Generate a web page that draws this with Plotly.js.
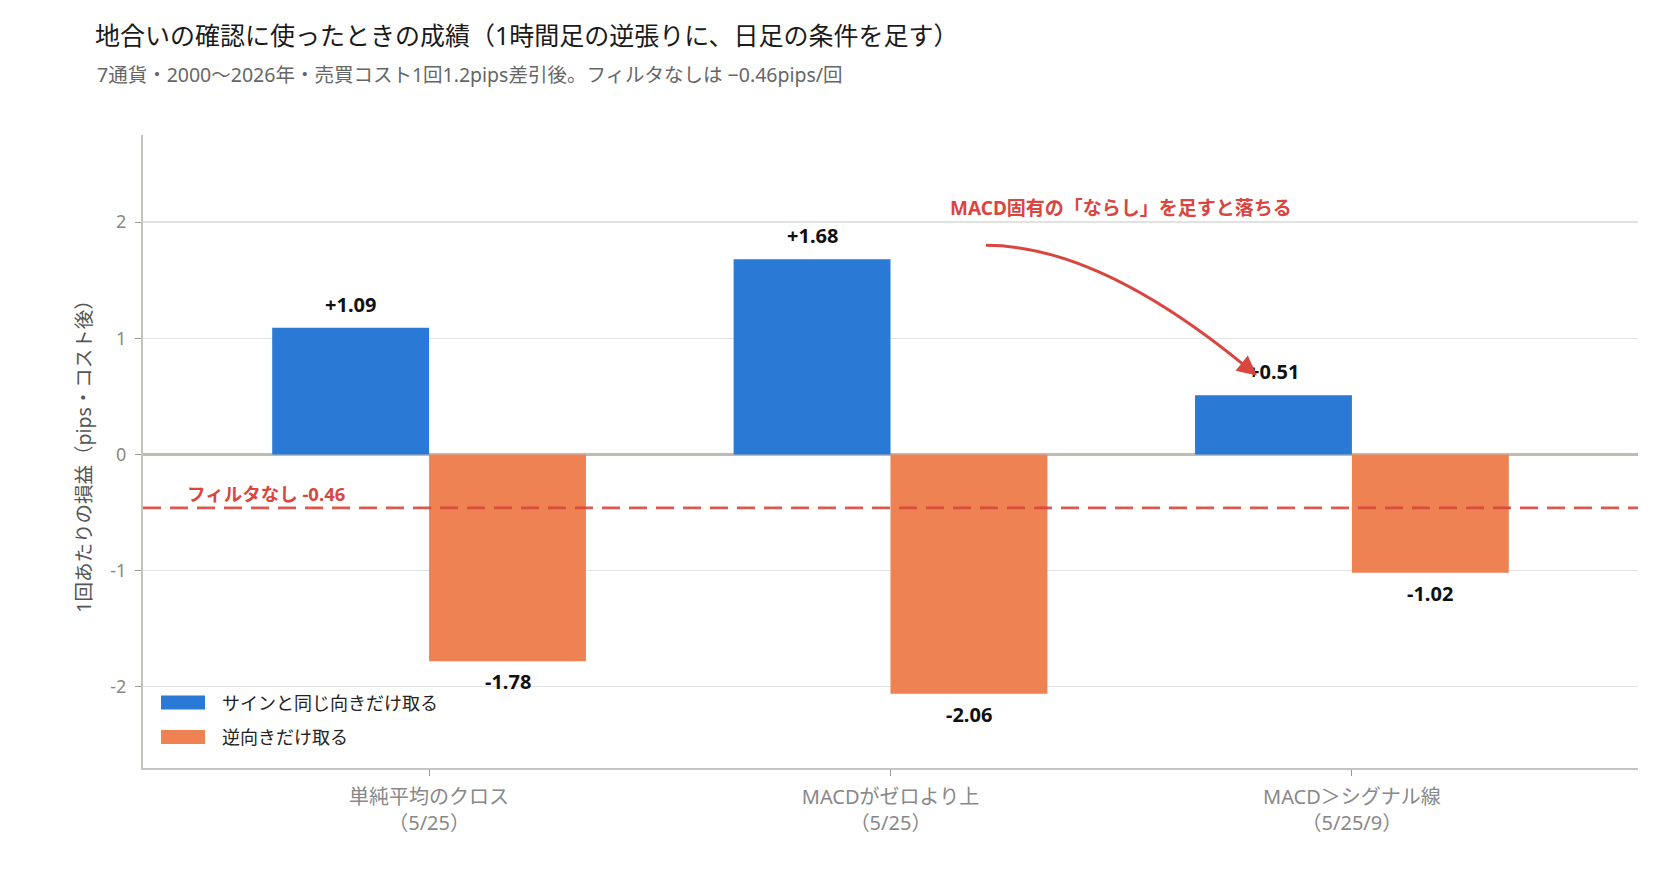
<!DOCTYPE html>
<html>
<head>
<meta charset="utf-8">
<script src="https://cdn.plot.ly/plotly-3.0.1.min.js"></script>
<style>
  html, body { margin: 0; padding: 0; background: #fff; }
  #chart { width: 1680px; height: 870px; }
</style>
</head>
<body>
<div id="chart"></div>
<script>
// Data
const categories = ['単純平均のクロス<br>（5/25）', 'MACDがゼロより上<br>（5/25）', 'MACD＞シグナル線<br>（5/25/9）'];
const seriesNames = ['サインと同じ向きだけ取る', '逆向きだけ取る'];
const sameDir = [1.09, 1.68, 0.51];
const oppDir = [-1.78, -2.06, -1.02];
const noFilter = -0.46;
const yTicks = [-2, -1, 0, 1, 2];
const yTickText = ['-2', '-1', '0', '1', '2'];

const FONT = "'Noto Sans', 'Noto Sans CJK JP', sans-serif";
const BLUE = '#2a79d4';
const ORANGE = '#ee8253';
const RED = '#d9463f';
const BAR_W = 0.34;

const xIdx = categories.map((_, i) => i);

const traces = [
    {
        type: 'bar',
        name: seriesNames[0],
        x: xIdx,
        y: sameDir,
        width: BAR_W,
        marker: { color: BLUE },
        legendgroup: 'a',
        hoverinfo: 'y'
    },
    {
        type: 'bar',
        name: seriesNames[1],
        x: xIdx,
        y: oppDir,
        width: BAR_W,
        marker: { color: ORANGE },
        legendgroup: 'b',
        hoverinfo: 'y'
    }
];

function fmt(v) {
    return (v > 0 ? '+' : '') + v.toFixed(2);
}

// value labels above / below each bar
function valueLabel(x, v) {
    return {
        x: x, y: v, xref: 'x', yref: 'y',
        text: fmt(v), showarrow: false,
        yanchor: v >= 0 ? 'bottom' : 'top', yshift: v >= 0 ? 8 : -5,
        font: { family: FONT, size: 20, color: '#111', weight: 'bold' }
    };
}
const valueLabels = [];
sameDir.forEach(function(v, i) { valueLabels.push(valueLabel(i - BAR_W / 2, v)); });
oppDir.forEach(function(v, i) { valueLabels.push(valueLabel(i + BAR_W / 2, v)); });

const layout = {
    width: 1680,
    height: 870,
    margin: { l: 143, r: 42, t: 135, b: 102 },
    paper_bgcolor: '#fff',
    plot_bgcolor: '#fff',
    font: { family: FONT, color: '#333' },
    barmode: 'group',
    bargap: 0.32,
    bargroupgap: 0,
    showlegend: true,
    title: {
        text: '地合いの確認に使ったときの成績（1時間足の逆張りに、日足の条件を足す）',
        font: { family: FONT, size: 25, color: '#1a1a1a' },
        xref: 'container', yref: 'container',
        x: 95 / 1680, xanchor: 'left',
        y: 1 - 36 / 870, yanchor: 'middle'
    },
    legend: {
        x: 0.0007, y: 0.02, xanchor: 'left', yanchor: 'bottom',
        bgcolor: 'rgba(255,255,255,0)',
        font: { family: FONT, size: 18, color: '#222' },
        traceorder: 'grouped',
        tracegroupgap: 8,
        itemwidth: 68
    },
    xaxis: {
        type: 'linear',
        range: [-0.62, 2.62],
        tickvals: xIdx,
        ticktext: categories,
        ticks: 'outside', ticklen: 6, tickcolor: '#999',
        ticklabelstandoff: 4,
        tickfont: { family: FONT, size: 20, color: '#888' },
        showline: true, linecolor: '#c4c4c4', linewidth: 2,
        showgrid: false, zeroline: false,
        fixedrange: true
    },
    yaxis: {
        range: [-2.7, 2.75],
        tickvals: yTicks,
        ticktext: yTickText,
        ticks: 'outside', ticklen: 6, tickcolor: '#999',
        ticklabelstandoff: 5,
        tickfont: { family: FONT, size: 18, color: '#888' },
        showline: true, linecolor: '#c4c4bc', linewidth: 2,
        showgrid: true, gridcolor: '#e2e2e2', gridwidth: 1.5,
        zeroline: true, zerolinecolor: '#bdbdb3', zerolinewidth: 2.5,
        title: {
            text: '1回あたりの損益（pips・コスト後）',
            font: { family: FONT, size: 19.5, color: '#555' },
            standoff: 13
        },
        fixedrange: true
    },
    shapes: [
        // no-filter reference line
        {
            type: 'line', xref: 'paper', yref: 'y',
            x0: 0, x1: 1, y0: noFilter, y1: noFilter,
            line: { color: RED, width: 2.8, dash: '18px,9px' },
            opacity: 0.9,
            layer: 'above'
        },
        // curved callout arrow body
        {
            type: 'path', xref: 'x', yref: 'y',
            path: 'M 1.207,1.80 Q 1.45,1.80 1.769,0.76',
            line: { color: RED, width: 3 },
            layer: 'above'
        }
    ],
    annotations: valueLabels.concat([
        {
            xref: 'paper', yref: 'paper',
            x: -48 / 1495, y: (770 - 76) / 633,
            xanchor: 'left', yanchor: 'middle',
            text: '7通貨・2000〜2026年・売買コスト1回1.2pips差引後。フィルタなしは −0.46pips/回',
            showarrow: false,
            font: { family: FONT, size: 19.5, color: '#666' }
        },
        {
            xref: 'paper', yref: 'y',
            x: 0.028, y: noFilter,
            xanchor: 'left', yanchor: 'bottom', yshift: 0,
            text: 'フィルタなし ' + noFilter.toFixed(2),
            showarrow: false,
            font: { family: FONT, size: 18.5, color: RED, weight: 'bold' }
        },
        {
            xref: 'x', yref: 'y',
            x: 1.50, y: 2.12,
            xanchor: 'center', yanchor: 'middle',
            text: 'MACD固有の「ならし」を足すと落ちる',
            showarrow: false,
            font: { family: FONT, size: 19, color: RED, weight: 'bold' }
        },
        // arrow head at the end of the curve
        {
            xref: 'x', yref: 'y', axref: 'x', ayref: 'y',
            x: 1.794, y: 0.68, ax: 1.769, ay: 0.76,
            text: '', showarrow: true,
            arrowhead: 2, arrowsize: 1.3, arrowwidth: 3, arrowcolor: RED
        }
    ])
};

Plotly.newPlot('chart', traces, layout, { displayModeBar: false, staticPlot: true }).then(function(gd) {
    // wider legend swatches like the original
    gd.querySelectorAll('.legend .legendpoints path').forEach(function(p) {
        p.setAttribute('d', 'M-22,7H22V-7H-22Z');
    });
});
</script>
</body>
</html>
